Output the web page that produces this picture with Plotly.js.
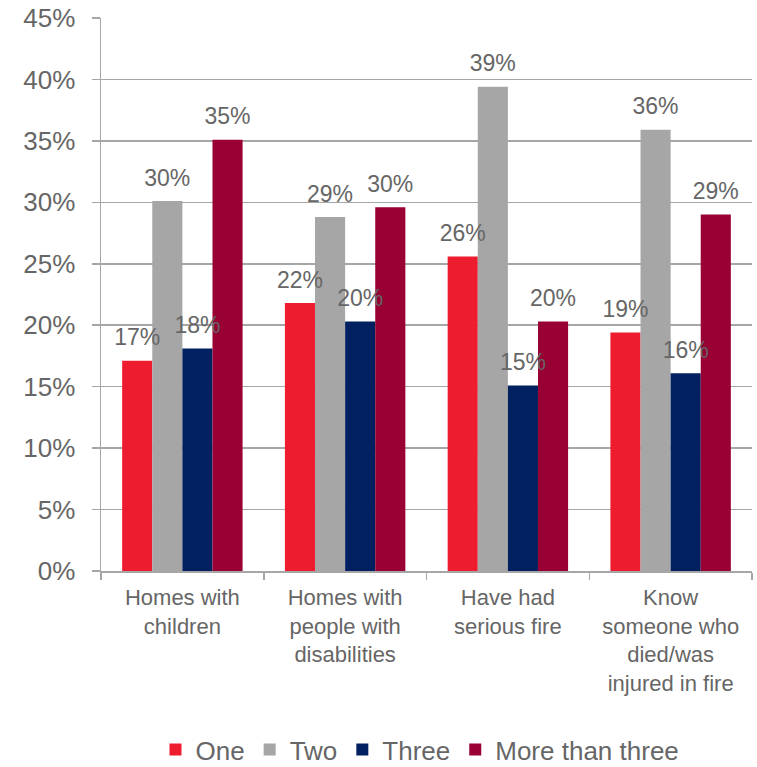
<!DOCTYPE html>
<html>
<head>
<meta charset="utf-8">
<script src="https://cdn.plot.ly/plotly-3.0.1.min.js"></script>
<style>html,body{margin:0;padding:0;background:#fff;}#chart{width:757px;height:767px;}</style>
</head>
<body>
<div id="chart"></div>
<script>
const categories = ["Homes with<br>children", "Homes with<br>people with<br>disabilities", "Have had<br>serious fire", "Know<br>someone who<br>died/was<br>injured in fire"];
const seriesNames = ["One", "Two", "Three", "More than three"];
const valuesOne = [17.1, 21.8, 25.6, 19.4];
const valuesTwo = [30.1, 28.8, 39.4, 35.9];
const valuesThree = [18.1, 20.3, 15.1, 16.1];
const valuesMore = [35.1, 29.6, 20.3, 29.0];
const colors = ["#ED1C2E", "#A6A6A6", "#002060", "#990033"];

const allValues = [valuesOne, valuesTwo, valuesThree, valuesMore];
const FONT = "Liberation Sans, Arial, sans-serif";
const TXT = "#666666";

const traces = [];
allValues.forEach((vals, i) => {
  traces.push({
    type: "bar",
    name: seriesNames[i],
    x: categories,
    y: vals,
    offsetgroup: String(i),
    marker: {color: colors[i], line: {width: 0}},
    hoverinfo: "y+name"
  });
});
allValues.forEach((vals, i) => {
  traces.push({
    type: "scatter",
    mode: "markers+text",
    x: categories,
    y: vals,
    offsetgroup: String(i),
    text: vals.map(v => Math.round(v) + "%"),
    textposition: "top center",
    textfont: {family: FONT, size: 23, color: TXT},
    marker: {size: 14, opacity: 0},
    showlegend: false,
    hoverinfo: "skip",
    cliponaxis: false
  });
});

const layout = {
  width: 757, height: 767,
  margin: {l: 101, r: 5, t: 17.5, b: 196, autoexpand: false},
  paper_bgcolor: "#ffffff", plot_bgcolor: "#ffffff",
  barmode: "group", bargap: 0.26, bargroupgap: 0,
  scattermode: "group", scattergap: 0.26,
  font: {family: FONT, color: TXT},
  showlegend: true,
  legend: {
    orientation: "h", x: 0.49, xanchor: "center", y: -0.323, yanchor: "middle",
    font: {family: FONT, size: 26, color: TXT},
    itemclick: false, itemdoubleclick: false
  },
  xaxis: {
    type: "category",
    showline: true, linecolor: "#A6A6A6", linewidth: 1.5,
    ticks: "outside", tickson: "boundaries", ticklen: 7, tickcolor: "#A6A6A6", tickwidth: 1.5,
    tickfont: {family: FONT, size: 22, color: TXT},
    ticklabelstandoff: 6,
    showgrid: false, zeroline: false, fixedrange: true
  },
  yaxis: {
    range: [0, 45], dtick: 5, tick0: 0, ticksuffix: "%",
    showline: true, linecolor: "#A6A6A6", linewidth: 1.5,
    ticks: "outside", ticklen: 8, tickcolor: "#A6A6A6", tickwidth: 1.5,
    tickfont: {family: FONT, size: 26, color: TXT},
    ticklabelstandoff: 11,
    showgrid: true, gridcolor: "#A6A6A6", gridwidth: 1.5,
    zeroline: false, fixedrange: true
  }
};

Plotly.newPlot("chart", traces, layout, {displayModeBar: false, staticPlot: true});
</script>
</body>
</html>
